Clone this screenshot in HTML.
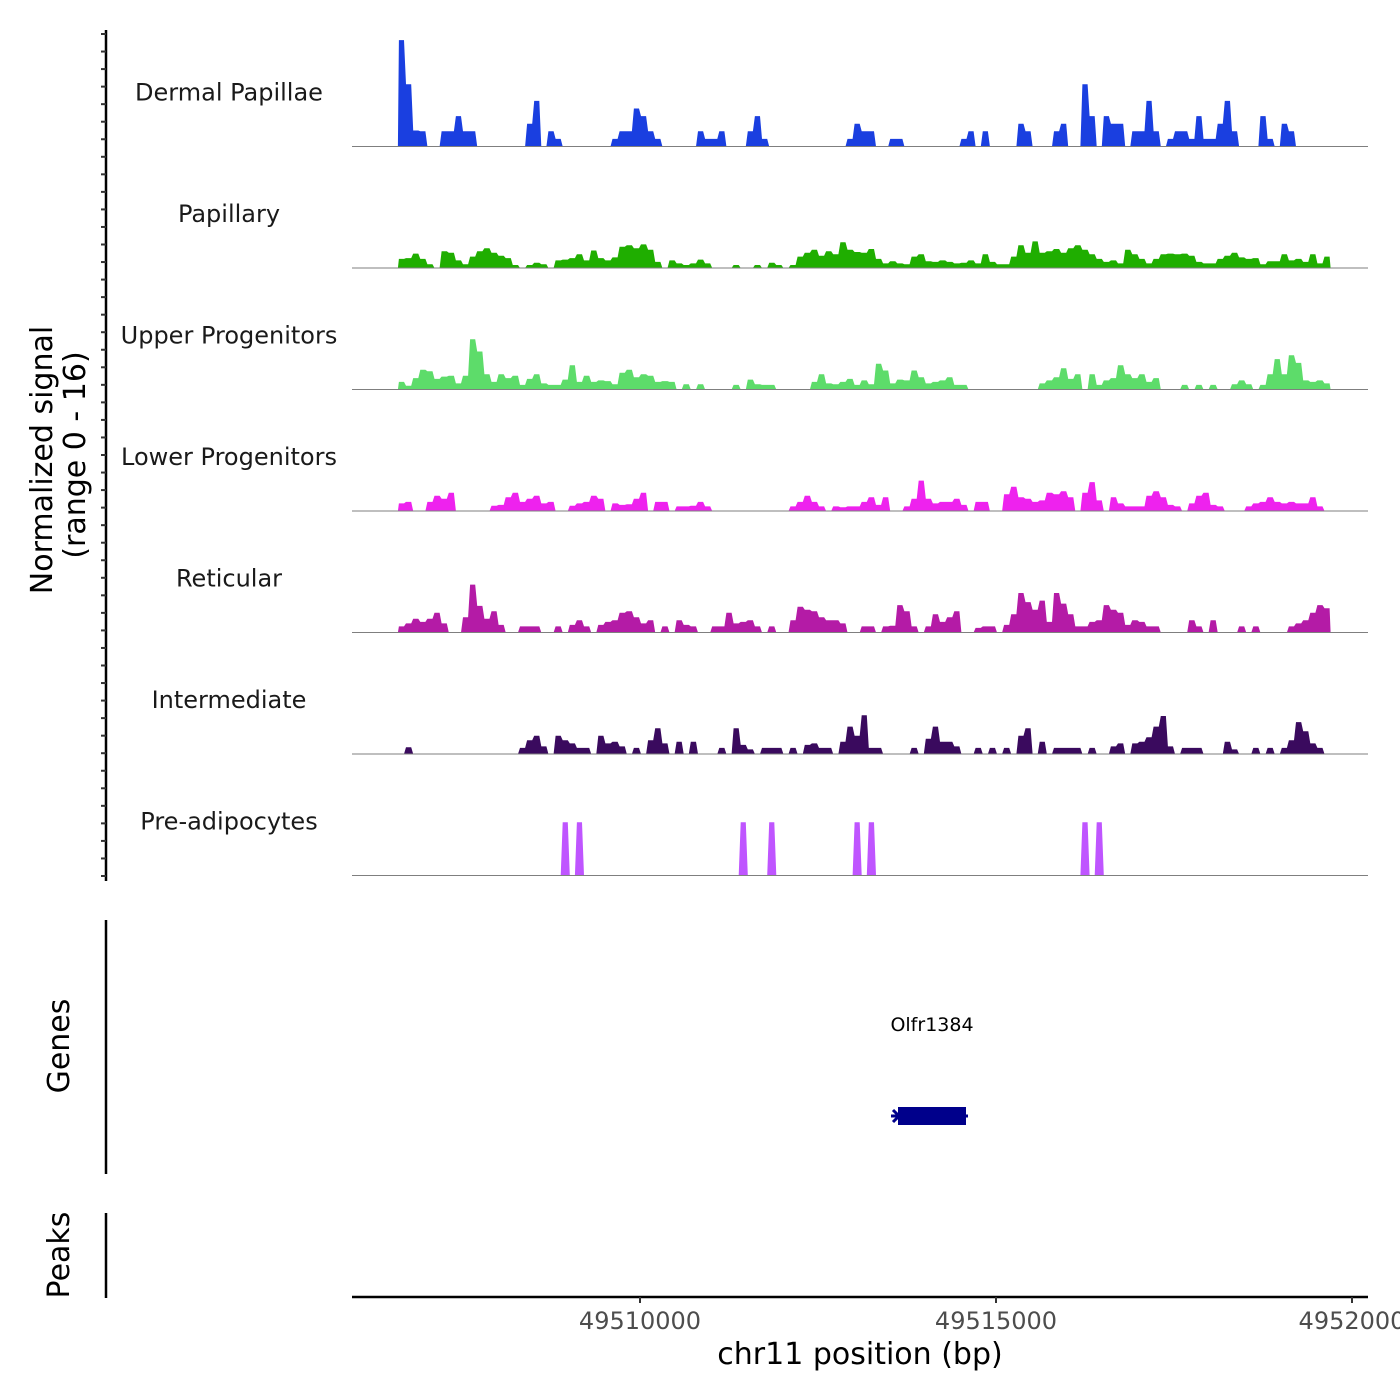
<!DOCTYPE html>
<html><head><meta charset="utf-8">
<style>
html,body{margin:0;padding:0;background:#fff;}
svg{display:block;}
text{font-family:"DejaVu Sans","Liberation Sans",sans-serif;}
</style></head>
<body>
<svg id="chart" width="1400" height="1400" viewBox="0 0 1400 1400" xmlns="http://www.w3.org/2000/svg">
<g id="tracks"></g>
<g id="yaxis"></g>
<text transform="translate(52,460) rotate(-90)" text-anchor="middle" font-size="30" fill="#000">Normalized signal</text>
<text transform="translate(85,455) rotate(-90)" text-anchor="middle" font-size="30" fill="#000">(range 0 - 16)</text>
<line x1="106" y1="920" x2="106" y2="1174" stroke="#000" stroke-width="2.5"/>
<text transform="translate(69,1046) rotate(-90)" text-anchor="middle" font-size="30" fill="#000">Genes</text>
<text x="932" y="1031" text-anchor="middle" font-size="19" fill="#000">Olfr1384</text>
<rect x="898" y="1107" width="68" height="18" fill="#00008b"/>
<line x1="891" y1="1116" x2="968" y2="1116" stroke="#00008b" stroke-width="3"/>
<path d="M893,1110 L899,1116 L893,1122" fill="none" stroke="#00008b" stroke-width="3"/>
<line x1="106" y1="1213" x2="106" y2="1298" stroke="#000" stroke-width="2.5"/>
<text transform="translate(69,1255) rotate(-90)" text-anchor="middle" font-size="30" fill="#000">Peaks</text>
<g id="xaxis"></g>
<text x="860" y="1364" text-anchor="middle" font-size="30" fill="#000">chr11 position (bp)</text>
</svg>
<script>
const trackNames = ["Dermal Papillae","Papillary","Upper Progenitors","Lower Progenitors","Reticular","Intermediate","Pre-adipocytes"];
const trackColors = ["#1a3fe0","#1fae00","#5ddc6a","#ee22ee","#b41ba6","#3a0a5e","#bf55ff"];
const binStart = 49506600;
const binSize = 100;
const xTickValues = [49510000, 49515000, 49520000];
const xTickLabels = ["49510000","49515000","4952000"];
const dermal = [14,8.2,2.1,2,0,0,2,2,4,2, 2,0,0,0,0,0,0,0,3,6, 0,2,1,0,0,0,0,0,0,0, 1,2,2,5,4,2,1,0,0,0, 0,0,2,1,1,2,0,0,0,2, 4,1,0,0,0,0,0,0,0,0, 0,0,0,1,3,2,2,0,0,1, 1,0,0,0,0,0,0,0,0,1, 2,0,2,0,0,0,0,3,2,0, 0,0,2,3,0,0,8.2,4,0,4, 3,3,0,2,2,6,2,0,1,2, 2,1,4,1,1,3,6,2,0,0, 0,4,1,0,3,2,0,0,0,0, 0];
const papillary = [1.2,1.3,1.9,1.2,0.5,0,2.2,2.0,1.0,0.5, 1.5,2.2,2.6,2.0,1.6,1.3,0.4,0,0.4,0.7, 0.5,0,1.0,1.1,1.3,1.8,1.0,2.3,1.3,1.0, 1.4,2.8,3.0,2.6,3.1,2.4,0.8,0,1.0,0.6, 0.4,0.6,1.1,0.6,0,0,0,0.4,0,0, 0.4,0,0.7,0.4,0,0.4,1.5,2.0,2.4,1.6, 2.2,1.8,3.4,2.4,2.1,2.0,2.5,1.2,0.6,0.9, 0.6,0.5,1.5,1.8,0.9,0.8,1.0,0.8,0.6,0.7, 1.0,0.6,1.8,0.8,0.5,0.5,1.5,3.0,2.0,3.5, 2.0,2.2,2.5,2.0,2.6,3.0,2.4,1.8,1.2,0.8, 1.0,0.6,2.4,1.8,1.2,0.6,1.2,1.8,1.9,1.8, 1.9,1.6,0.8,0.6,0.6,1.2,1.6,2.0,1.4,1.2, 1.3,0.5,0.9,0.9,1.8,1.0,1.2,0.8,1.8,0.6, 1.5];
const upperProg = [1.0,0.5,1.5,2.6,2.4,1.4,1.7,1.8,0.8,1.8, 6.6,5.0,2.0,1.0,2.0,1.5,1.8,0.6,1.4,2.0, 0.8,0.6,0.6,1.3,3.2,1.0,1.8,1.0,1.2,1.1, 0.7,2.2,2.6,1.6,2.0,1.8,1.0,1.1,1.0,0, 0.7,0,0.7,0,0,0,0,0.6,0,1.3, 0.7,0.6,0.6,0,0,0,0,0,1.0,2.0, 0.8,0.7,1.0,1.4,0.6,1.2,0.7,3.4,2.5,0.8, 1.3,1.2,2.5,1.6,0.8,1.0,1.2,1.6,0.6,0.6, 0,0,0,0,0,0,0,0,0,0, 0.8,1.2,1.6,2.8,1.4,2.0,0,2.0,0.6,1.2, 1.5,3.2,2.0,1.5,2.0,1.0,1.5,0,0,0, 0.6,0,0.6,0,0.6,0,0,0.7,1.2,0.7, 0,0.6,2.0,4.0,2.0,4.5,3.5,1.2,1.0,1.2, 0.8];
const lowerProg = [1.0,1.2,0,0,1.2,2.0,1.6,2.4,0,0, 0,0,0,0.7,0.8,1.8,2.4,1.2,1.6,2.0, 1.0,1.2,0,0,0.7,1.0,1.2,2.0,1.6,0, 1.0,0.8,0.9,1.6,2.4,0,1.2,1.2,0,0.6, 0.6,0.7,1.2,0.6,0,0,0,0,0,0, 0,0,0,0,0,0.6,1.2,2.0,1.2,0.6, 0,0.6,0.5,0.6,0.6,1.2,1.8,0.8,1.8,0, 0,0.6,1.6,4.0,1.6,1.0,1.2,1.2,1.6,0.8, 0,1.2,1.2,0,0,2.2,3.2,1.8,1.6,1.2, 1.4,2.4,2.2,2.6,1.8,0,2.4,3.8,1.4,0, 1.8,1.0,0.6,0.6,0.6,2.0,2.6,1.8,0.8,0.6, 0,1.0,2.0,2.4,0.8,0.6,0,0,0,0.6, 1.0,1.2,1.8,1.2,1.0,1.2,1.0,1.0,1.8,0.6, 0];
const reticular = [0.8,1.2,1.8,1.4,1.8,2.6,1.2,0,0,2.0, 6.3,3.5,1.8,2.8,1.0,0,0,0.8,0.8,0.8, 0,0,0.8,0,1.0,1.6,0.8,0,1.0,1.4, 1.6,2.6,2.8,2.0,1.2,1.6,0,0.8,0,1.6, 1.0,0.8,0,0,0.8,0.8,2.6,1.2,1.4,1.6, 0.8,0,0.8,0,0,1.6,3.4,3.0,2.8,2.0, 1.6,1.6,1.2,0,0,0.8,0.8,0,0.8,0.9, 3.6,2.8,0.8,0,0.8,2.4,1.4,2.0,2.8,0, 0,0.6,0.8,0.8,0,1.0,2.4,5.2,4.0,3.0, 4.2,1.4,5.2,3.8,2.4,0.8,0.8,1.4,1.6,3.6, 3.0,2.6,1.0,1.6,1.4,0.8,0.8,0,0,0, 0,1.6,0.8,0,1.6,0,0,0,0.8,0, 0.8,0,0,0,0,0.8,1.2,1.6,2.6,3.6, 3.2];
const intermediate = [0,0.9,0,0,0,0,0,0,0,0, 0,0,0,0,0,0,0,0.8,1.8,2.4, 1.0,0,2.4,1.8,1.4,0.8,0.8,0,2.4,1.4, 1.6,1.0,0,0.8,0,1.8,3.4,1.4,0,1.6, 0,1.6,0,0,0,0.8,0,3.4,1.2,0.6, 0,0.8,0.8,0.8,0,0.8,0,1.2,1.4,0.8, 0.8,0,1.6,3.6,2.4,5.1,0.8,0.8,0,0, 0,0,0.8,0,2.0,3.6,1.6,1.6,1.0,0, 0,0.8,0,0.8,0,0.8,0,2.4,3.4,0, 1.6,0,0.8,0.8,0.8,0.8,0,0.8,0,0, 1.0,1.4,0,1.4,1.6,2.2,3.6,5.0,1.0,0, 0.8,0.8,0.8,0,0,0,1.6,0.6,0,0, 0.8,0,0.8,0,0.8,1.8,4.2,3.0,1.4,0.8, 0];
const preAdipo = [0,0,0,0,0,0,0,0,0,0, 0,0,0,0,0,0,0,0,0,0, 0,0,0,7,0,7,0,0,0,0, 0,0,0,0,0,0,0,0,0,0, 0,0,0,0,0,0,0,0,7,0, 0,0,7,0,0,0,0,0,0,0, 0,0,0,0,7,0,7,0,0,0, 0,0,0,0,0,0,0,0,0,0, 0,0,0,0,0,0,0,0,0,0, 0,0,0,0,0,0,7,0,7,0, 0,0,0,0,0,0,0,0,0,0, 0,0,0,0,0,0,0,0,0,0, 0,0,0,0,0,0,0,0,0,0, 0];

const NS = "http://www.w3.org/2000/svg";
const series = [dermal, papillary, upperProg, lowerProg, reticular, intermediate, preAdipo];
const plotL = 352, plotR = 1368;
const trackTop = 25, trackH = 121.5;
const pxPerUnit = 7.6;
function xScale(bp){ return 352 + (bp - 49505955) * 0.0712; }
function baseline(t){ return trackTop + trackH * (t + 1); }
function yScale(v, t){ return baseline(t) - v * pxPerUnit; }

const tracks = document.getElementById('tracks');
series.forEach((vals, t) => {
  const g = document.createElementNS(NS, 'g');
  
  
  const base = baseline(t);
  const pts = [[xScale(binStart), base]];
  vals.forEach((v, i) => {
    const x0 = xScale(binStart + i * binSize), x1 = xScale(binStart + (i + 1) * binSize);
    const y = yScale(v, t);
    pts.push([x0 + 1, y]); pts.push([x1 - 1, y]);
  });
  pts.push([xScale(binStart + vals.length * binSize), base]);
  const poly = document.createElementNS(NS, 'polygon');
  
  
  poly.setAttribute('points', pts.map(p => p[0].toFixed(1) + ',' + p[1].toFixed(1)).join(' '));
  poly.setAttribute('fill', trackColors[t]);
  g.appendChild(poly);
  const bl = document.createElementNS(NS, 'line');
  
  
  bl.setAttribute('x1', plotL); bl.setAttribute('x2', plotR);
  bl.setAttribute('y1', base); bl.setAttribute('y2', base);
  bl.setAttribute('stroke', '#7f7f7f'); bl.setAttribute('stroke-width', '1');
  g.appendChild(bl);
  const lab = document.createElementNS(NS, 'text');
  
  
  lab.setAttribute('x', 229); lab.setAttribute('y', base - 46);
  lab.setAttribute('text-anchor', 'middle'); lab.setAttribute('font-size', '24');
  lab.setAttribute('fill', '#1a1a1a');
  lab.textContent = trackNames[t];
  g.appendChild(lab);
  tracks.appendChild(g);
});

const yaxis = document.getElementById('yaxis');
const yl = document.createElementNS(NS, 'line');


yl.setAttribute('x1', 106); yl.setAttribute('x2', 106); yl.setAttribute('y1', 30); yl.setAttribute('y2', 881);
yl.setAttribute('stroke', '#000'); yl.setAttribute('stroke-width', '2.5');
yaxis.appendChild(yl);
for (let k = 0; k < 49; k++) {
  const y = 34 + k * (876 - 34) / 48;
  const tk = document.createElementNS(NS, 'line');
  
  
  tk.setAttribute('x1', 101); tk.setAttribute('x2', 106); tk.setAttribute('y1', y); tk.setAttribute('y2', y);
  tk.setAttribute('stroke', '#333'); tk.setAttribute('stroke-width', '2');
  yaxis.appendChild(tk);
}

const xaxis = document.getElementById('xaxis');
const xl = document.createElementNS(NS, 'line');


xl.setAttribute('x1', plotL); xl.setAttribute('x2', plotR); xl.setAttribute('y1', 1297); xl.setAttribute('y2', 1297);
xl.setAttribute('stroke', '#000'); xl.setAttribute('stroke-width', '2.5');
xaxis.appendChild(xl);
xTickValues.forEach((v, i) => {
  const x = xScale(v);
  const tk = document.createElementNS(NS, 'line');
  
  
  tk.setAttribute('x1', x); tk.setAttribute('x2', x); tk.setAttribute('y1', 1297); tk.setAttribute('y2', 1303);
  tk.setAttribute('stroke', '#333'); tk.setAttribute('stroke-width', '2');
  xaxis.appendChild(tk);
  const lb = document.createElementNS(NS, 'text');
  
  
  lb.setAttribute('x', x); lb.setAttribute('y', 1329);
  lb.setAttribute('text-anchor', 'middle'); lb.setAttribute('font-size', '24');
  lb.setAttribute('fill', '#4d4d4d');
  lb.textContent = xTickLabels[i];
  xaxis.appendChild(lb);
});
</script>
</body></html>
